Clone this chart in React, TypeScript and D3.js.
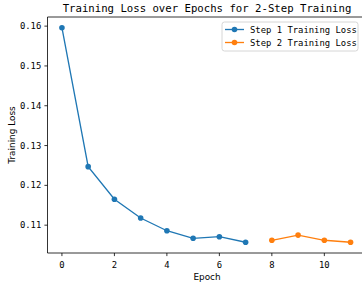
import { useEffect, useRef } from "react";
import * as d3 from "d3";

const step1Epochs = [0, 1, 2, 3, 4, 5, 6, 7];
const step1Loss = [0.1596, 0.1247, 0.1165, 0.1118, 0.1086, 0.1067, 0.1071, 0.1057];
const step2Epochs = [8, 9, 10, 11];
const step2Loss = [0.1062, 0.1075, 0.1062, 0.1057];
const xTicks = [0, 2, 4, 6, 8, 10];
const yTicks = [0.11, 0.12, 0.13, 0.14, 0.15, 0.16];
const seriesNames = ["Step 1 Training Loss", "Step 2 Training Loss"];
const colors = ["#1f77b4", "#ff7f0e"];

export default function App() {
  const svgRef = useRef<SVGSVGElement>(null);

  useEffect(() => {
    document.body.style.margin = "0";
    const svg = d3.select(svgRef.current);
    svg.selectAll("*").remove();

    const width = 362;
    const height = 285;
    const margin = { top: 17, left: 47.5, bottom: 253, right: 365 };
    const mono = "DejaVu Sans Mono";
    const sans = "DejaVu Sans";

    const x = d3.scaleLinear().domain([-0.55, 11.55]).range([margin.left, margin.right]);
    const allY = [...step1Loss, ...step2Loss];
    const [lo, hi] = d3.extent(allY) as [number, number];
    const pad = (hi - lo) * 0.05;
    const y = d3.scaleLinear().domain([lo - pad, hi + pad]).range([margin.bottom, margin.top]);

    svg.append("rect").attr("width", width).attr("height", height).attr("fill", "#fff");

    // series
    const series = [
      { xs: step1Epochs, ys: step1Loss },
      { xs: step2Epochs, ys: step2Loss },
    ];
    const line = d3
      .line<[number, number]>()
      .x(d => x(d[0]))
      .y(d => y(d[1]));

    series.forEach((s, i) => {
      const pts = s.xs.map((e, k) => [e, s.ys[k]] as [number, number]);
      svg
        .append("path")
        .attr("d", line(pts))
        .attr("fill", "none")
        .attr("stroke", colors[i])
        .attr("stroke-width", 1.33);
      svg
        .selectAll(null)
        .data(pts)
        .enter()
        .append("circle")
        .attr("cx", d => x(d[0]))
        .attr("cy", d => y(d[1]))
        .attr("r", 2.8)
        .attr("fill", colors[i]);
    });

    // spines
    const spine = svg.append("g").attr("stroke", "#000").attr("stroke-width", 0.8);
    spine.append("line").attr("x1", margin.left).attr("x2", margin.left).attr("y1", margin.top).attr("y2", margin.bottom);
    spine.append("line").attr("x1", margin.left).attr("x2", margin.right).attr("y1", margin.bottom).attr("y2", margin.bottom);
    spine.append("line").attr("x1", margin.left).attr("x2", margin.right).attr("y1", margin.top).attr("y2", margin.top);

    // x ticks
    xTicks.forEach(t => {
      svg.append("line")
        .attr("x1", x(t)).attr("x2", x(t))
        .attr("y1", margin.bottom).attr("y2", margin.bottom + 3.1)
        .attr("stroke", "#000").attr("stroke-width", 0.8);
      svg.append("text")
        .attr("x", x(t)).attr("y", margin.bottom + 14.5)
        .attr("text-anchor", "middle")
        .attr("font-family", mono).attr("font-size", 8.9)
        .text(String(t));
    });

    // y ticks
    yTicks.forEach(t => {
      svg.append("line")
        .attr("x1", margin.left - 3.1).attr("x2", margin.left)
        .attr("y1", y(t)).attr("y2", y(t))
        .attr("stroke", "#000").attr("stroke-width", 0.8);
      svg.append("text")
        .attr("x", margin.left - 6.2).attr("y", y(t))
        .attr("dy", "0.35em")
        .attr("text-anchor", "end")
        .attr("font-family", mono).attr("font-size", 8.9)
        .text(t.toFixed(2));
    });

    // labels
    svg.append("text")
      .attr("x", 207).attr("y", 279.5)
      .attr("text-anchor", "middle")
      .attr("font-family", sans).attr("font-size", 8.9)
      .text("Epoch");
    svg.append("text")
      .attr("transform", `translate(14.5,${(margin.top + margin.bottom) / 2}) rotate(-90)`)
      .attr("text-anchor", "middle")
      .attr("font-family", sans).attr("font-size", 8.9)
      .text("Training Loss");
    svg.append("text")
      .attr("x", 207).attr("y", 12)
      .attr("text-anchor", "middle")
      .attr("font-family", mono).attr("font-size", 10.67)
      .text("Training Loss over Epochs for 2-Step Training");

    // legend
    const legend = svg.append("g").attr("transform", "translate(222,22)");
    legend.append("rect")
      .attr("width", 136).attr("height", 29)
      .attr("rx", 2.5)
      .attr("fill", "#fff").attr("fill-opacity", 0.8)
      .attr("stroke", "#ccc").attr("stroke-width", 0.8);
    seriesNames.forEach((name, i) => {
      const ly = 7.5 + i * 13;
      legend.append("line")
        .attr("x1", 3).attr("x2", 22).attr("y1", ly).attr("y2", ly)
        .attr("stroke", colors[i]).attr("stroke-width", 1.33);
      legend.append("circle").attr("cx", 12.5).attr("cy", ly).attr("r", 2.8).attr("fill", colors[i]);
      legend.append("text")
        .attr("x", 28).attr("y", ly).attr("dy", "0.35em")
        .attr("font-family", mono).attr("font-size", 8.9)
        .text(name);
    });
  }, []);

  return (
    <svg
      ref={svgRef}
      width={362}
      height={285}
      style={{ position: "absolute", left: 0, top: 0, display: "block" }}
    />
  );
}
